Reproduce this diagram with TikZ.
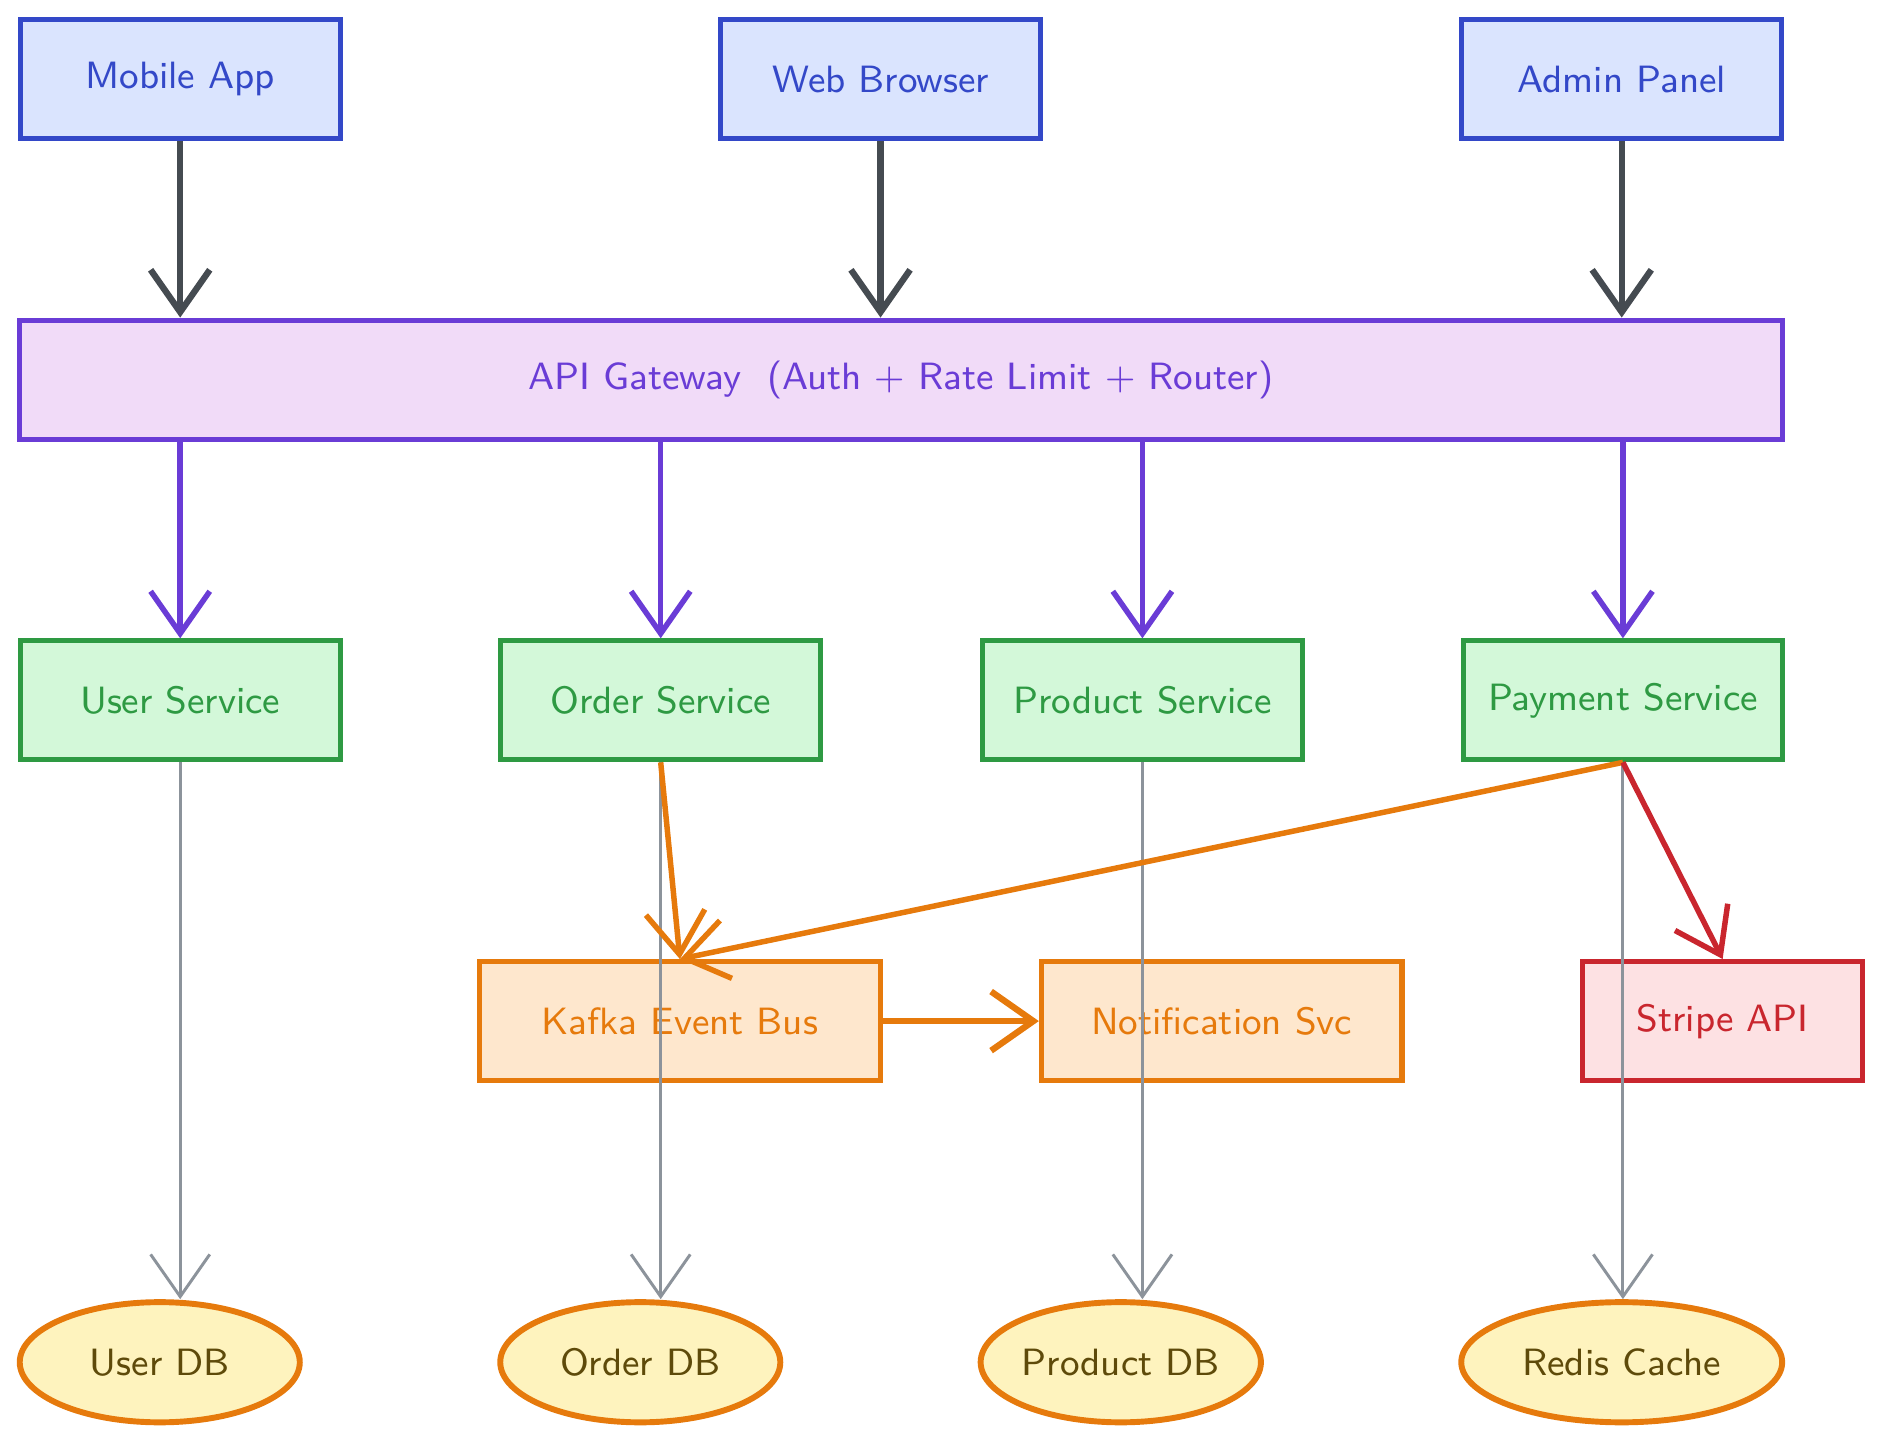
\documentclass[tikz,border=0pt]{standalone}
\usepackage{tikz}
\usetikzlibrary{shapes,arrows.meta}
\definecolor{cliFill}{HTML}{DAE4FE}
\definecolor{cliLine}{HTML}{3348C8}
\definecolor{gwFill}{HTML}{F1DBF8}
\definecolor{gwLine}{HTML}{6A3CD6}
\definecolor{svcFill}{HTML}{D3F8D9}
\definecolor{svcLine}{HTML}{2E9A43}
\definecolor{evFill}{HTML}{FEE7CD}
\definecolor{evLine}{HTML}{E67A0C}
\definecolor{extFill}{HTML}{FDE1E3}
\definecolor{extLine}{HTML}{C9262E}
\definecolor{dbFill}{HTML}{FEF3BE}
\definecolor{dbText}{HTML}{5E4A0A}
\definecolor{darkArrow}{HTML}{454B51}
\definecolor{grayArrow}{HTML}{8C939B}
\begin{document}
\begin{tikzpicture}[x=0.01cm,y=-0.01cm,font=\sffamily\small,
  box/.style={draw,line width=1.2pt,minimum height=0.99cm,inner sep=0pt},
  client/.style={box,fill=cliFill,draw=cliLine,text=cliLine,minimum width=2.66cm},
  service/.style={box,fill=svcFill,draw=svcLine,text=svcLine,minimum width=2.66cm},
  event/.style={box,fill=evFill,draw=evLine,text=evLine},
  store/.style={ellipse,draw=evLine,line width=1.4pt,fill=dbFill,text=dbText,minimum height=1cm,inner sep=0pt},
  arr/.style={-{Straight Barb[length=10pt,width=14pt]}}]
\useasboundingbox (0,0) rectangle (1565,1200);
% clients
\node[client] (mobile) at (150,66) {Mobile App};
\node[client] (web) at (733,66) {Web Browser};
\node[client] (admin) at (1350,66) {Admin Panel};
% gateway
\node[box,fill=gwFill,draw=gwLine,text=gwLine,minimum width=14.67cm] (gw) at (750,316) {API Gateway\ \ (Auth + Rate Limit + Router)};
% services
\node[service] (user) at (150,583) {User Service};
\node[service] (order) at (550,583) {Order Service};
\node[service] (product) at (951,583) {Product Service};
\node[service] (payment) at (1351,583) {Payment Service};
% events and externals
\node[event,minimum width=3.33cm] (kafka) at (566,850) {Kafka Event Bus};
\node[event,minimum width=3cm] (notify) at (1017,850) {Notification Svc};
\node[box,fill=extFill,draw=extLine,text=extLine,minimum width=2.33cm] (stripe) at (1434,850) {Stripe API};
% stores
\node[store,minimum width=2.33cm] (userdb) at (133,1134) {User DB};
\node[store,minimum width=2.33cm] (orderdb) at (533,1134) {Order DB};
\node[store,minimum width=2.33cm] (productdb) at (933,1134) {Product DB};
\node[store,minimum width=2.67cm] (redis) at (1350,1134) {Redis Cache};
% edges
\foreach \c in {mobile,web,admin}
  \draw[arr,darkArrow,line width=1.5pt] (\c.south) -- (\c.south |- gw.north);
\foreach \s in {user,order,product,payment}
  \draw[arr,gwLine,line width=1.3pt] (\s.north |- gw.south) -- (\s.north);
\foreach \s/\d in {user/userdb,order/orderdb,product/productdb,payment/redis}
  \draw[arr,grayArrow,line width=0.7pt] (\s.south) -- (\s.south |- \d.north);
\draw[arr,evLine,line width=1.3pt] (order.south) -- (kafka.north);
\draw[arr,evLine,line width=1.3pt] (payment.south) -- (kafka.north);
\draw[arr,evLine,line width=1.5pt] (kafka.east) -- (notify.west);
\draw[arr,extLine,line width=1.3pt] (payment.south) -- (stripe.north);
\end{tikzpicture}
\end{document}
